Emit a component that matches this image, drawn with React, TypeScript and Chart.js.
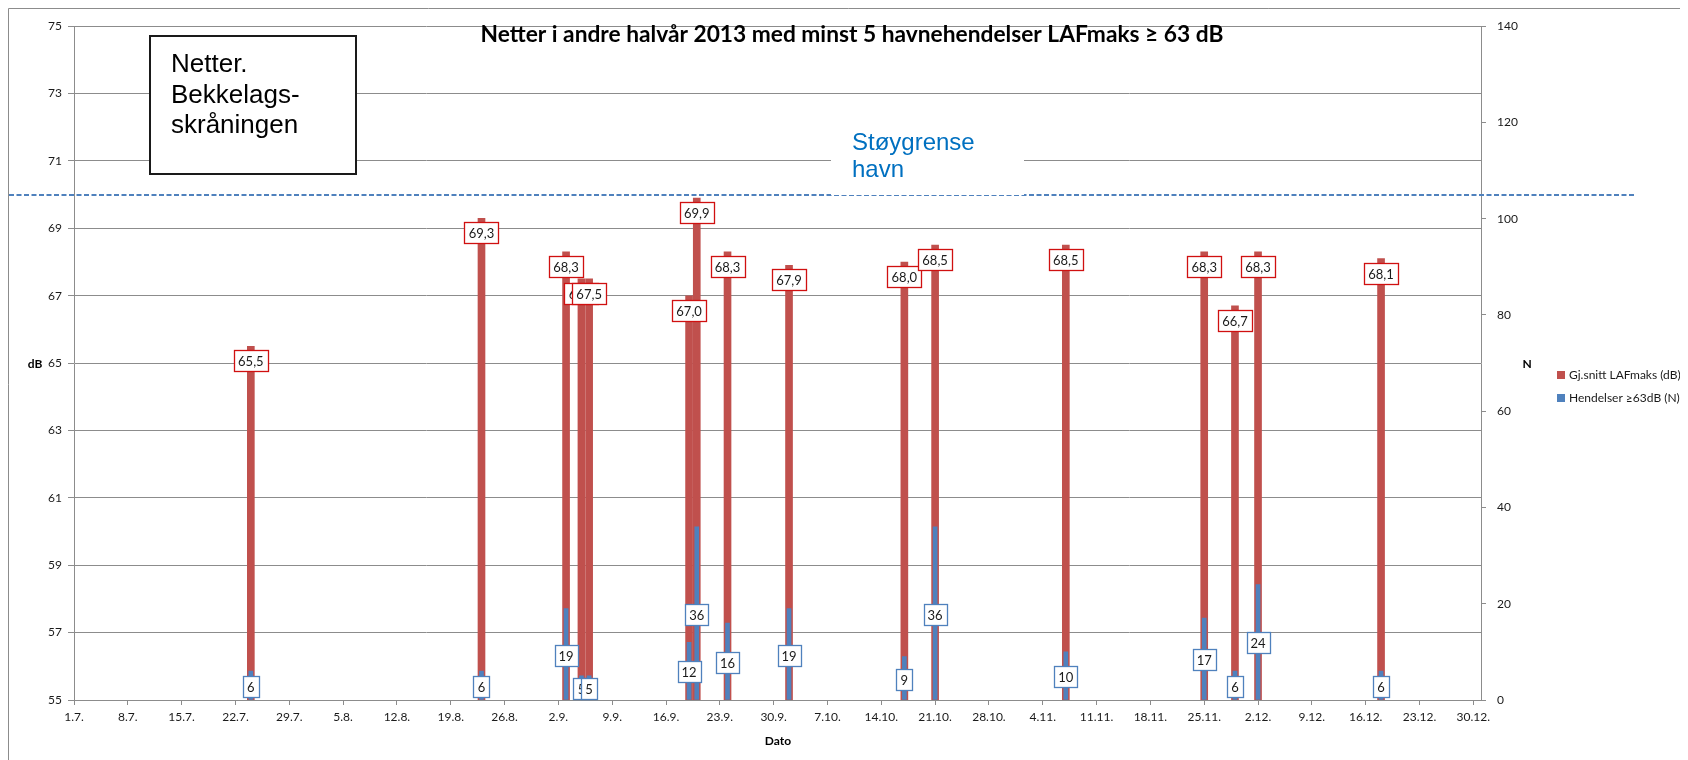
import React, { useEffect, useRef } from 'react';
import { Chart, registerables } from 'chart.js';

Chart.register(...registerables);

// ---- data ----
const dates = ['24.7.', '23.8.', '3.9.', '5.9.', '6.9.', '19.9.', '20.9.', '24.9.', '2.10.', '17.10.', '21.10.', '7.11.', '25.11.', '29.11.', '2.12.', '18.12.'];
const avgLAFmax = [65.5, 69.3, 68.3, 67.5, 67.5, 67.0, 69.9, 68.3, 67.9, 68.0, 68.5, 68.5, 68.3, 66.7, 68.3, 68.1];
const eventCounts = [6, 6, 19, 5, 5, 12, 36, 16, 19, 9, 36, 10, 17, 6, 24, 6];
const xTickLabels = ['1.7.', '8.7.', '15.7.', '22.7.', '29.7.', '5.8.', '12.8.', '19.8.', '26.8.', '2.9.', '9.9.', '16.9.', '23.9.', '30.9.', '7.10.', '14.10.', '21.10.', '28.10.', '4.11.', '11.11.', '18.11.', '25.11.', '2.12.', '9.12.', '16.12.', '23.12.', '30.12.'];
const axisEndDate = '31.12.';
const noiseLimit = 70;

const titleText = 'Netter i andre halvår 2013 med minst 5 havnehendelser LAFmaks ≥ 63 dB';
const seriesNames = ['Gj.snitt LAFmaks (dB)', 'Hendelser ≥63dB (N)'];
const boxLines = ['Netter.', 'Bekkelags-', 'skråningen'];
const limitLines = ['Støygrense', 'havn'];

const monthStart: Record<number, number> = { 7: 0, 8: 31, 9: 62, 10: 92, 11: 123, 12: 153 };
const dayOf = (s: string) => {
  const [d, m] = s.split('.').map(Number);
  return monthStart[m] + d - 1;
};

const RED = '#c0504d';
const BLUE = '#4f81bd';
const GRID = '#8c8c8c';
const TXT = '#1a1a1a';
const FONT = 'Lato';

const overlay = {
  id: 'overlay',
  afterDatasetsDraw(chart: any) {
    const ctx = chart.ctx;
    ctx.save();
    ctx.font = `13px ${FONT}`;
    ctx.textAlign = 'center';
    ctx.textBaseline = 'middle';
    const h = 21;
    // red labels (inside end)
    const m0 = chart.getDatasetMeta(0);
    m0.data.forEach((el: any, i: number) => {
      const txt = avgLAFmax[i].toFixed(1).replace('.', ',');
      const w = Math.round(ctx.measureText(txt).width + 8);
      const x = Math.round(el.x - w / 2) + 0.5;
      const y = Math.round(el.y + 4) + 0.5;
      ctx.fillStyle = '#fff';
      ctx.fillRect(x, y, w, h);
      ctx.strokeStyle = '#d01010';
      ctx.lineWidth = 1.3;
      ctx.strokeRect(x, y, w, h);
      ctx.fillStyle = TXT;
      ctx.fillText(txt, el.x, y + h / 2 + 0.5);
    });
    // blue labels (center)
    const m1 = chart.getDatasetMeta(1);
    m1.data.forEach((el: any, i: number) => {
      const txt = String(eventCounts[i]);
      const w = Math.round(ctx.measureText(txt).width + 8);
      const cy = (el.y + el.base) / 2 + 1;
      const x = Math.round(el.x - w / 2) + 0.5;
      const y = Math.round(cy - h / 2) + 0.5;
      ctx.fillStyle = '#fff';
      ctx.fillRect(x, y, w, h);
      ctx.strokeStyle = BLUE;
      ctx.lineWidth = 1.3;
      ctx.strokeRect(x, y, w, h);
      ctx.fillStyle = TXT;
      ctx.fillText(txt, el.x, y + h / 2 + 0.5);
    });
    ctx.restore();
  },
  afterDraw(chart: any) {
    const ctx = chart.ctx;
    const W = chart.width;
    const H = chart.height;
    ctx.save();
    // frame
    ctx.strokeStyle = GRID;
    ctx.lineWidth = 1;
    ctx.beginPath();
    ctx.moveTo(0.5, H);
    ctx.lineTo(0.5, 0.5);
    ctx.lineTo(W, 0.5);
    ctx.stroke();

    // title
    ctx.fillStyle = '#000';
    ctx.textAlign = 'center';
    ctx.textBaseline = 'middle';
    ctx.font = `bold 20px ${FONT}`;
    const tw = ctx.measureText(titleText).width;
    const ts = (20 * 743) / tw;
    ctx.font = `bold ${ts.toFixed(2)}px ${FONT}`;
    ctx.fillText(titleText, 844, 27);

    // axis titles
    ctx.font = `bold 12px ${FONT}`;
    ctx.fillText('dB', 27, 356);
    ctx.fillText('N', 1519, 356);
    ctx.fillText('Dato', 770, 733);

    // legend
    ctx.textAlign = 'left';
    ctx.font = `12px ${FONT}`;
    [RED, BLUE].forEach((c, i) => {
      const cy = 367 + i * 23;
      ctx.fillStyle = c;
      ctx.fillRect(1549, cy - 4, 8, 8);
      ctx.fillStyle = TXT;
      ctx.fillText(seriesNames[i], 1561, cy);
    });

    // noise limit dashed line
    const yLim = Math.round(chart.scales.y.getPixelForValue(noiseLimit));
    ctx.strokeStyle = BLUE;
    ctx.lineWidth = 2;
    ctx.setLineDash([5, 2.5]);
    ctx.beginPath();
    ctx.moveTo(1, yLim);
    ctx.lineTo(1626, yLim);
    ctx.stroke();
    ctx.setLineDash([]);

    // Støygrense text box (white, no border)
    ctx.fillStyle = '#fff';
    ctx.fillRect(823, 112, 193, yLim - 112);
    ctx.fillStyle = '#0070c0';
    ctx.font = `24px "Liberation Sans", Arial, sans-serif`;
    ctx.textBaseline = 'alphabetic';
    ctx.fillText(limitLines[0], 844, 142);
    ctx.fillText(limitLines[1], 844, 169);

    // Netter box
    ctx.fillStyle = '#fff';
    ctx.fillRect(142, 28, 206, 138);
    ctx.strokeStyle = '#1a1a1a';
    ctx.lineWidth = 2;
    ctx.strokeRect(142, 28, 206, 138);
    ctx.fillStyle = '#000';
    ctx.font = `26px "Liberation Sans", Arial, sans-serif`;
    boxLines.forEach((l, i) => ctx.fillText(l, 163, 64 + i * 30.5));

    ctx.restore();
  },
};

export default function App() {
  const ref = useRef<HTMLCanvasElement>(null);
  useEffect(() => {
    document.documentElement.style.overflow = 'hidden';
    document.body.style.overflow = 'hidden';
    const xTicks = xTickLabels.map((l) => dayOf(l));
    const chart = new Chart(ref.current!, {
      type: 'bar',
      data: {
        datasets: [
          {
            label: seriesNames[0],
            data: dates.map((d, i) => ({ x: dayOf(d), y: avgLAFmax[i] })),
            backgroundColor: RED,
            barThickness: 7,
            grouped: false,
            yAxisID: 'y',
            order: 2,
          },
          {
            label: seriesNames[1],
            data: dates.map((d, i) => ({ x: dayOf(d), y: eventCounts[i] })),
            backgroundColor: BLUE,
            barThickness: 4,
            grouped: false,
            yAxisID: 'y1',
            order: 1,
          },
        ] as any,
      },
      options: {
        animation: false,
        responsive: false,
        maintainAspectRatio: false,
        layout: { padding: { top: 15, left: 0, right: 0, bottom: 0 } },
        plugins: {
          legend: { display: false },
          tooltip: { enabled: false },
          title: { display: false },
        },
        scales: {
          x: {
            type: 'linear',
            offset: false,
            min: 0,
            max: dayOf(axisEndDate),
            afterBuildTicks: (s: any) => {
              s.ticks = xTicks.map((v) => ({ value: v }));
            },
            afterFit: (s: any) => {
              s.height = 60;
            },
            ticks: {
              autoSkip: false,
              maxRotation: 0,
              padding: 5,
              color: TXT,
              font: { family: FONT, size: 12 },
              callback: (_v: any, i: number) => xTickLabels[i],
            },
            grid: { drawOnChartArea: false, drawTicks: true, tickLength: 5, color: GRID, offset: false },
            border: { display: true, color: GRID },
          },
          y: {
            position: 'left',
            min: 55,
            max: 75,
            afterFit: (s: any) => {
              s.width = 66;
            },
            ticks: {
              stepSize: 2,
              padding: 6,
              color: TXT,
              font: { family: FONT, size: 12 },
            },
            grid: { color: GRID, tickLength: 6 },
            border: { display: true, color: GRID },
          },
          y1: {
            position: 'right',
            min: 0,
            max: 140,
            afterFit: (s: any) => {
              s.width = 207;
            },
            ticks: {
              stepSize: 20,
              padding: 11,
              color: TXT,
              font: { family: FONT, size: 12 },
            },
            grid: { drawOnChartArea: false, tickLength: 5, color: GRID },
            border: { display: true, color: GRID },
          },
        },
      } as any,
      plugins: [overlay],
    });
    return () => chart.destroy();
  }, []);
  return (
    <div style={{ width: 1680, height: 752 }}>
      <canvas ref={ref} width={1680} height={752} style={{ display: 'block', width: 1680, height: 752 }} />
    </div>
  );
}
